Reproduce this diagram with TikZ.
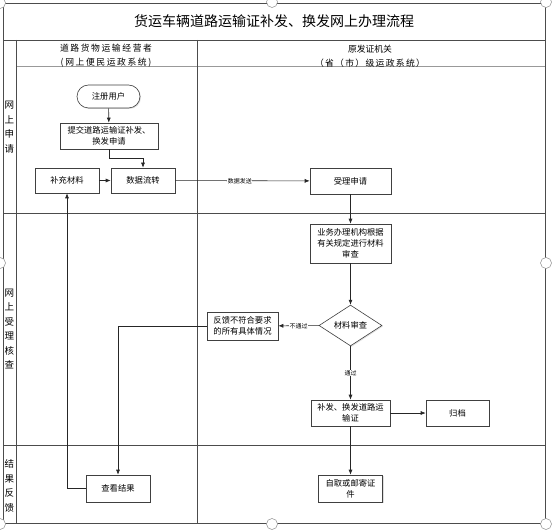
\documentclass[tikz,border=0pt]{standalone}
\usepackage{fontspec}
\setmainfont{Noto Sans CJK SC}
\usetikzlibrary{arrows.meta,shapes.geometric,shadows}
\begin{document}
\begin{tikzpicture}[x=1pt,y=-1pt,
  frame/.style={draw=black!70, line width=0.8pt},
  box/.style={draw=black!75, fill=white, line width=0.6pt, align=center, inner sep=1pt,
    font=\fontsize{8.3}{11}\selectfont,
    drop shadow={opacity=0.25, shadow xshift=1pt, shadow yshift=-1pt}},
  conn/.style={draw=black!85, line width=0.6pt, -{Latex[length=5pt,width=4pt]}},
  elabel/.style={fill=white, inner sep=0.5pt, font=\fontsize{6}{7}\selectfont},
  handlec/.style={draw=black!45, fill=white, line width=0.5pt},
  lanelbl/.style={font=\fontsize{9.5}{14.5}\selectfont, align=center, inner sep=0pt},
  headlbl/.style={font=\fontsize{8.8}{14}\selectfont, align=center, inner sep=0pt}
]
\useasboundingbox (0,0) rectangle (553,529);
% frame
\draw[frame] (3,3) rectangle (545,523);
\draw[frame] (3,40) -- (545,40);
\draw[draw=black!40, line width=1.5pt] (16,66.5) -- (545,66.5);
\draw[frame] (16,40) -- (16,523);
\draw[frame] (197.5,40) -- (197.5,523);
\draw[frame] (3,213) -- (545,213);
\draw[frame] (3,445) -- (545,445);
% title and headers
\node[font=\fontsize{14}{16}\selectfont] (title) at (274,21) {货运车辆道路运输证补发、换发网上办理流程};
\node[headlbl] (hleft) at (106,56) {\addfontfeatures{LetterSpace=18}道路货物运输经营者\\\addfontfeatures{LetterSpace=18}(网上便民运政系统)};
\node[headlbl] (hright) at (370,56) {原发证机关\\\addfontfeatures{LetterSpace=15}（省（市）级运政系统）};
% lane labels
\node[lanelbl] (lane1) at (9.5,127) {网\\上\\申\\请};
\node[lanelbl] (lane2) at (9.5,329) {网\\上\\受\\理\\核\\查};
\node[lanelbl] (lane3) at (9.5,486) {结\\果\\反\\馈};
% nodes
\node[box, rounded corners=11.5pt, minimum width=63pt, minimum height=23pt] (reg) at (108.5,96.5) {注册用户};
\node[box, minimum width=98pt, minimum height=26pt] (submit) at (109,136) {提交道路运输证补发、\\换发申请};
\node[box, minimum width=64pt, minimum height=25pt] (supp) at (67,180.5) {补充材料};
\node[box, minimum width=64pt, minimum height=25pt] (flow) at (143,180.5) {数据流转};
\node[box, minimum width=81pt, minimum height=26pt] (accept) at (350.5,181) {受理申请};
\node[box, minimum width=81pt, minimum height=39pt] (review) at (350.5,243.5) {业务办理机构根据\\有关规定进行材料\\审查};
\node[box, diamond, inner sep=0pt, minimum width=63pt, minimum height=37pt] (check) at (350.5,325.5) {材料审查};
\node[box, minimum width=71pt, minimum height=28pt] (fb) at (242.5,326) {反馈不符合要求\\的所有具体情况};
\node[box, minimum width=79pt, minimum height=26pt] (issue) at (350.5,413) {补发、换发道路运\\输证};
\node[box, minimum width=63pt, minimum height=26pt] (archive) at (457.5,413) {归档};
\node[box, minimum width=64pt, minimum height=27pt] (view) at (118,488.5) {查看结果};
\node[box, minimum width=64pt, minimum height=27pt] (pickup) at (350.5,488.5) {自取或邮寄证\\件};
% connectors
\draw[conn] (reg) -- (submit);
\draw[conn] (submit.south) -- ++(0,9) -| (flow.north);
\draw[conn] (supp) -- (flow);
\draw[conn] (flow) -- node[elabel, pos=0.48] {数据发送} (accept);
\draw[conn] (accept) -- (review);
\draw[conn] (review) -- (check);
\draw[conn] (check) -- node[elabel] {不通过} (fb);
\draw[conn] (check) -- node[elabel] {通过} (issue);
\draw[conn] (issue) -- (archive);
\draw[conn] (issue) -- (pickup);
\draw[conn] (fb.west) -| (view.north);
\draw[conn] (view.west) -| (supp.south);
% selection handles
\foreach \hx/\hy in {0/3, 272/2, 546/2, 0/263, 546/263, 0/524, 272/524, 546/524}
  \draw[handlec] (\hx,\hy) circle[radius=5.5pt];
\end{tikzpicture}
\end{document}
